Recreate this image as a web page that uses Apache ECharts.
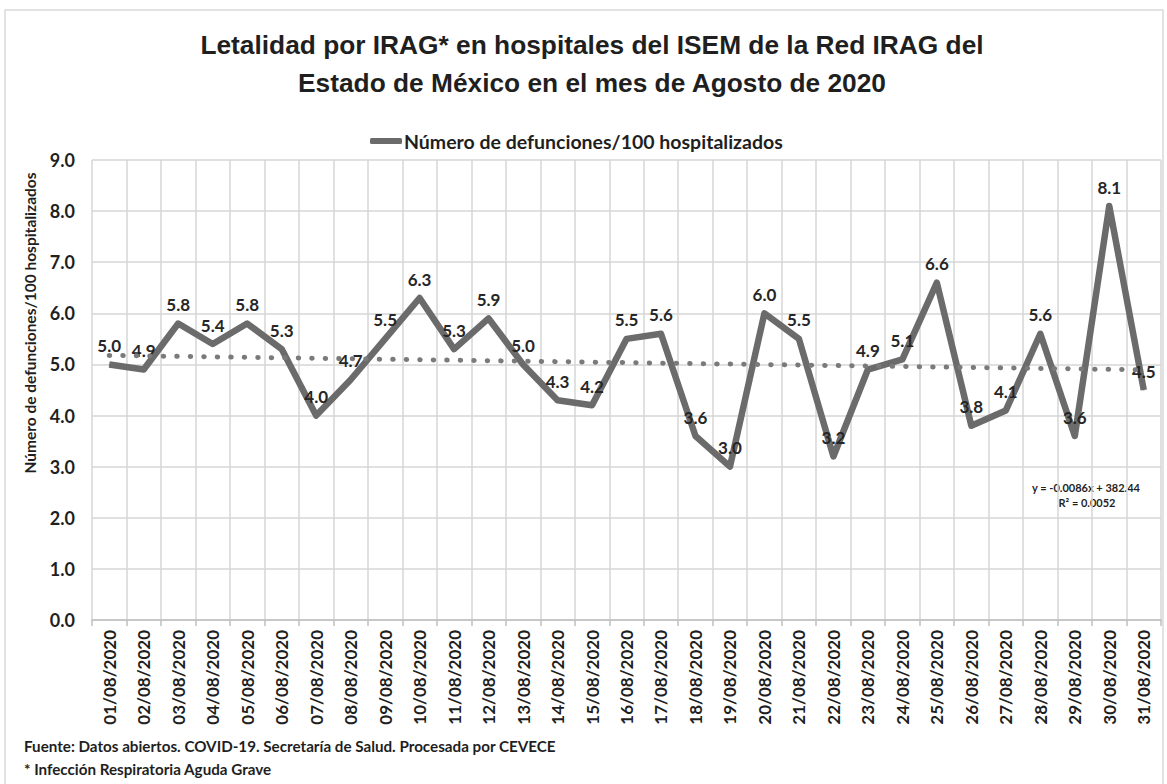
<!DOCTYPE html>
<html>
<head>
<meta charset="utf-8">
<script src="https://cdn.jsdelivr.net/npm/echarts@6/dist/echarts.min.js"></script>
<style>
  html, body { margin: 0; padding: 0; background: #ffffff; }
  #chart { width: 1167px; height: 784px; }
</style>
</head>
<body>
<div id="chart"></div>
<script>
// Fechas del mes de agosto 2020
const categories = [
  '01/08/2020', '02/08/2020', '03/08/2020', '04/08/2020', '05/08/2020', '06/08/2020',
  '07/08/2020', '08/08/2020', '09/08/2020', '10/08/2020', '11/08/2020', '12/08/2020',
  '13/08/2020', '14/08/2020', '15/08/2020', '16/08/2020', '17/08/2020', '18/08/2020',
  '19/08/2020', '20/08/2020', '21/08/2020', '22/08/2020', '23/08/2020', '24/08/2020',
  '25/08/2020', '26/08/2020', '27/08/2020', '28/08/2020', '29/08/2020', '30/08/2020',
  '31/08/2020'
];

// Número de defunciones por cada 100 hospitalizados
const letalidad = [
  5.0, 4.9, 5.8, 5.4, 5.8, 5.3, 4.0, 4.7, 5.5, 6.3, 5.3, 5.9, 5.0, 4.3, 4.2, 5.5,
  5.6, 3.6, 3.0, 6.0, 5.5, 3.2, 4.9, 5.1, 6.6, 3.8, 4.1, 5.6, 3.6, 8.1, 4.5
];

// Escala del eje vertical
const yMin = 0;
const yMax = 9;
const yStep = 1;

// Ecuación de la línea de tendencia (fecha como número de serie)
const trendText = ['y = -0.0086x + 382.44', 'R\u00B2 = 0.0052'];

const seriesName = 'Número de defunciones/100 hospitalizados';
const titleLines = [
  'Letalidad por IRAG* en hospitales del ISEM de la Red IRAG del',
  'Estado de México en el mes de Agosto de 2020'
];
const notes = [
  'Fuente: Datos abiertos. COVID-19. Secretaría de Salud. Procesada por CEVECE',
  '* Infección Respiratoria Aguda Grave'
];

// Tendencia lineal por mínimos cuadrados sobre el índice del día
function linearTrend(values) {
  const n = values.length;
  let sx = 0, sy = 0, sxx = 0, sxy = 0;
  values.forEach((v, i) => { sx += i; sy += v; sxx += i * i; sxy += i * v; });
  const b = (n * sxy - sx * sy) / (n * sxx - sx * sx);
  const a = (sy - b * sx) / n;
  return values.map((_, i) => +(a + b * i).toFixed(4));
}
const tendencia = linearTrend(letalidad);

const FONT = "Lato, 'Open Sans', sans-serif";
const TXT = '#1f1f1f';
const LINE = '#6b6b6b';

const chart = echarts.init(document.getElementById('chart'), null, { renderer: 'svg' });

chart.setOption({
  backgroundColor: '#ffffff',
  animation: false,
  title: {
    text: titleLines.join('\n'),
    left: 587,
    top: 21,
    textAlign: 'center',
    textStyle: {
      fontFamily: "'Liberation Sans', Arial, sans-serif",
      fontWeight: 'bold',
      fontSize: 26.3,
      lineHeight: 38,
      color: TXT
    }
  },
  legend: {
    data: [seriesName],
    left: 365,
    top: 126,
    icon: 'roundRect',
    itemWidth: 32,
    itemHeight: 6,
    itemGap: 4,
    textStyle: { fontFamily: FONT, fontWeight: 'bold', fontSize: 19.5, color: TXT, padding: [0, 0, 0, -3] }
  },
  grid: { left: 92, right: 6, top: 160, bottom: 164, containLabel: false },
  xAxis: {
    type: 'category',
    data: categories,
    boundaryGap: true,
    axisLine: { show: true, lineStyle: { color: '#bfbfbf', width: 1.5 } },
    axisTick: { show: true, length: 6, lineStyle: { color: '#bfbfbf', width: 1.5 } },
    splitLine: { show: true, interval: 0, lineStyle: { color: '#d6d6d6', width: 1.5 } },
    axisLabel: {
      interval: 0,
      rotate: 90,
      margin: 10,
      fontFamily: FONT,
      fontWeight: 'bold',
      fontSize: 17,
      color: TXT
    }
  },
  yAxis: {
    type: 'value',
    min: yMin,
    max: yMax,
    interval: yStep,
    axisLine: { show: false },
    axisTick: { show: false },
    splitLine: { show: true, lineStyle: { color: '#d6d6d6', width: 1.5 } },
    axisLabel: {
      margin: 17,
      fontFamily: FONT,
      fontWeight: 'bold',
      fontSize: 18,
      color: TXT,
      formatter: v => v.toFixed(1)
    }
  },
  series: [
    {
      name: seriesName,
      type: 'line',
      data: letalidad,
      symbol: 'circle',
      symbolSize: 1,
      showSymbol: true,
      z: 3,
      lineStyle: { color: LINE, width: 6.5, join: 'round' },
      itemStyle: { color: LINE },
      label: {
        show: true,
        position: 'top',
        distance: 10,
        fontFamily: FONT,
        fontWeight: 'bold',
        fontSize: 17,
        color: '#262626',
        formatter: p => p.value.toFixed(1)
      },
      labelLayout: { hideOverlap: false }
    },
    {
      name: 'Tendencia',
      type: 'line',
      data: tendencia,
      symbol: 'none',
      silent: true,
      z: 4,
      lineStyle: { color: '#7a7a7a', width: 5, type: [0.5, 13], cap: 'round' }
    }
  ],
  graphic: [
    {
      type: 'rect',
      shape: { x: 5, y: 10, width: 1158, height: 800 },
      style: { fill: 'none', stroke: '#d9d9d9', lineWidth: 1.5 },
      silent: true,
      z: -10
    },
    {
      type: 'text',
      x: 30,
      y: 323,
      rotation: Math.PI / 2,
      style: {
        text: seriesName,
        fontFamily: FONT,
        fontWeight: 'bold',
        fontSize: 15.5,
        fill: TXT,
        textAlign: 'center',
        textVerticalAlign: 'middle'
      }
    },
    {
      type: 'text',
      x: 1086,
      y: 487,
      style: {
        text: trendText[0],
        fontFamily: FONT,
        fontWeight: 'bold',
        fontSize: 11,
        fill: TXT,
        textAlign: 'center',
        textVerticalAlign: 'middle'
      }
    },
    {
      type: 'text',
      x: 1087,
      y: 502,
      style: {
        text: trendText[1],
        fontFamily: FONT,
        fontWeight: 'bold',
        fontSize: 11,
        fill: TXT,
        textAlign: 'center',
        textVerticalAlign: 'middle'
      }
    },
    {
      type: 'text',
      x: 24,
      y: 746,
      style: {
        text: notes[0],
        fontFamily: FONT,
        fontWeight: 'bold',
        fontSize: 15.2,
        fill: TXT,
        textVerticalAlign: 'middle'
      }
    },
    {
      type: 'text',
      x: 24,
      y: 769,
      style: {
        text: notes[1],
        fontFamily: FONT,
        fontWeight: 'bold',
        fontSize: 15.2,
        fill: TXT,
        textVerticalAlign: 'middle'
      }
    }
  ]
});
</script>
</body>
</html>
